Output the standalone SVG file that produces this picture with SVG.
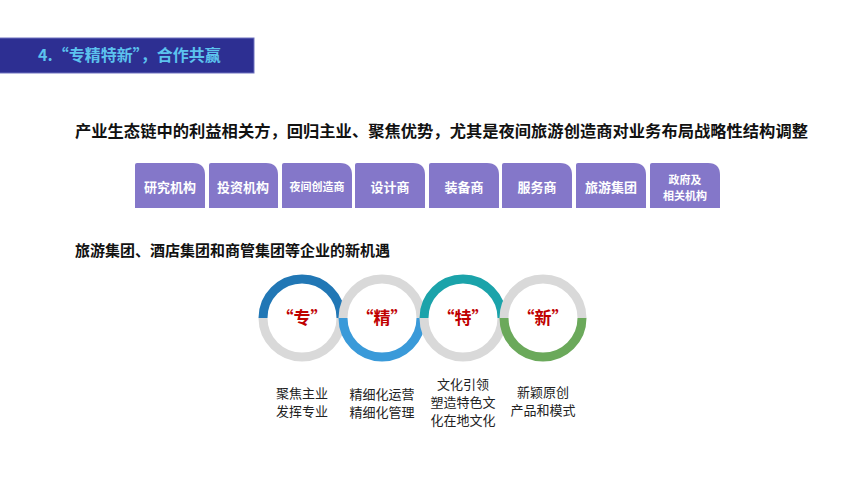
<svg xmlns="http://www.w3.org/2000/svg" width="865" height="487" viewBox="0 0 865 487">
<style>
text{font-family:"Noto Sans CJK SC","Noto Sans",sans-serif}
.h{font-size:16px;font-weight:bold;fill:#111}
.tab{fill:#8477C9}
.tt{font-size:13px;font-weight:bold;fill:#fff;text-anchor:middle}
.ts{font-size:11px}
.ring{fill:none;stroke-width:9}
.g{stroke:#D9D9D9}
.ct{font-size:17px;font-weight:bold;fill:#C00000;text-anchor:middle}
.lb{font-size:13px;fill:#222;text-anchor:middle}
</style>
<rect width="865" height="487" fill="#fff"/>
<g id="banner">
<rect x="-1" y="38" width="255" height="35" fill="#2D2F92" stroke="#6F72C0" stroke-width="1"/>
<text x="38" y="61" font-size="16" font-weight="bold" fill="#5CC3EE">4.“专精特新”，合作共赢</text>
</g>
<g id="heading1"><text class="h" x="75" y="137" textLength="733" lengthAdjust="spacingAndGlyphs">产业生态链中的利益相关方，回归主业、聚焦优势，尤其是夜间旅游创造商对业务布局战略性结构调整</text></g>
<g id="tabs">
<g id="t1"><path class="tab" d="M135,208V165Q135,163 137,163H193Q205,163 205,175V208Z"/><text class="tt" x="170" y="192">研究机构</text></g>
<g id="t2"><path class="tab" d="M209,208V165Q209,163 211,163H266Q278,163 278,175V208Z"/><text class="tt" x="243" y="192">投资机构</text></g>
<g id="t3"><path class="tab" d="M282,208V165Q282,163 284,163H340Q352,163 352,175V208Z"/><text class="tt ts" x="317" y="191">夜间创造商</text></g>
<g id="t4"><path class="tab" d="M355,208V165Q355,163 357,163H413Q425,163 425,175V208Z"/><text class="tt" x="390" y="192">设计商</text></g>
<g id="t5"><path class="tab" d="M429,208V165Q429,163 431,163H487Q499,163 499,175V208Z"/><text class="tt" x="464" y="192">装备商</text></g>
<g id="t6"><path class="tab" d="M502,208V165Q502,163 504,163H560Q572,163 572,175V208Z"/><text class="tt" x="537" y="192">服务商</text></g>
<g id="t7"><path class="tab" d="M576,208V165Q576,163 578,163H634Q646,163 646,175V208Z"/><text class="tt" x="611" y="192">旅游集团</text></g>
<g id="t8"><path class="tab" d="M650,208V165Q650,163 652,163H708Q720,163 720,175V208Z"/><text class="tt ts" x="685" y="184">政府及</text><text class="tt ts" x="685" y="200">相关机构</text></g>
</g>
<g id="heading2"><text x="75" y="256" font-size="15" font-weight="bold" fill="#111">旅游集团、酒店集团和商管集团等企业的新机遇</text></g>
<g id="rings">
<g id="c1"><path class="ring g" d="M263,318A39,39 0 0 0 341,318"/><path class="ring" stroke="#2177B5" d="M263,318A39,39 0 0 1 341,318"/><text class="ct" x="302" y="324">“专”</text></g>
<g id="c2"><path class="ring g" d="M343,318A39,39 0 0 1 421,318"/><path class="ring" stroke="#3A9AD9" d="M343,318A39,39 0 0 0 421,318"/><text class="ct" x="382" y="324">“精”</text></g>
<g id="c3"><path class="ring g" d="M424,318A39,39 0 0 0 502,318"/><path class="ring" stroke="#1BA3AA" d="M424,318A39,39 0 0 1 502,318"/><text class="ct" x="463" y="324">“特”</text></g>
<g id="c4"><path class="ring g" d="M504,318A39,39 0 0 1 582,318"/><path class="ring" stroke="#6BA95B" d="M504,318A39,39 0 0 0 582,318"/><text class="ct" x="543" y="324">“新”</text></g>
</g>
<g id="labels">
<text class="lb" x="302" y="398">聚焦主业</text><text class="lb" x="302" y="416">发挥专业</text>
<text class="lb" x="382" y="399">精细化运营</text><text class="lb" x="382" y="417">精细化管理</text>
<text class="lb" x="463" y="389">文化引领</text><text class="lb" x="463" y="407">塑造特色文</text><text class="lb" x="463" y="425">化在地文化</text>
<text class="lb" x="543" y="397">新颖原创</text><text class="lb" x="543" y="415">产品和模式</text>
</g>
</svg>
